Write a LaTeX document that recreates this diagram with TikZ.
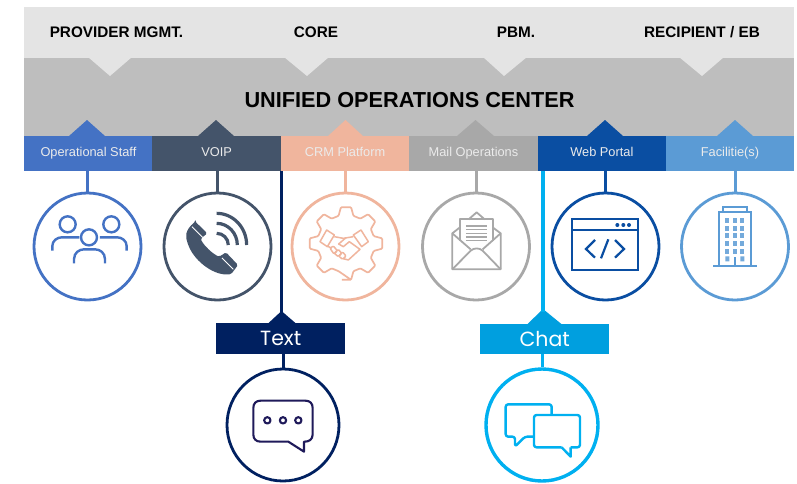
\documentclass[tikz,border=0pt]{standalone}
\usepackage{fontspec}
\setmainfont{Liberation Sans}
\newfontfamily\geofont{Poppins}
\definecolor{bandlight}{HTML}{E4E4E4}
\definecolor{banddark}{HTML}{BEBEBE}
\definecolor{cstaff}{HTML}{4472C4}
\definecolor{cvoip}{HTML}{44546A}
\definecolor{ccrm}{HTML}{F0B59D}
\definecolor{cmail}{HTML}{A8A8A8}
\definecolor{cweb}{HTML}{0A4EA2}
\definecolor{cfac}{HTML}{5B9BD5}
\definecolor{ctext}{HTML}{002060}
\definecolor{cchatbar}{HTML}{009FDF}
\definecolor{cchat}{HTML}{00B0F0}
\definecolor{cbubble}{HTML}{1F1A5A}
\tikzset{
  head/.style={font=\fontsize{15.3}{17}\selectfont\bfseries,text=black,inner sep=0pt},
  tabbox/.style={fill=#1,draw=none,minimum height=35.5pt,inner sep=0pt,text=white!92!black,font=\fontsize{12.8}{15}\selectfont,anchor=north west,text height=9.2pt,text depth=2.7pt},
  bigbar/.style={fill=#1,draw=none,minimum width=129pt,inner sep=0pt,text=white,font=\fontsize{20.5}{24}\geofont\selectfont,anchor=north west,text height=15pt,text depth=1pt},
  ring/.style={circle,draw=#1,line width=2.8pt,fill=white,inner sep=0pt,minimum size=107pt},
  bigring/.style={circle,draw=#1,fill=white,inner sep=0pt,minimum size=112pt},
  link/.style={draw=#1,line width=3pt},
}
\begin{document}
\begin{tikzpicture}[x=1pt,y=-1pt]
\useasboundingbox (0,0) rectangle (797,483);
% bands
\fill[bandlight] (24,7) rectangle (794,58);
\fill[banddark] (24,58) rectangle (794,136);
\fill[bandlight] (88,57) -- (110,76) -- (132,57) -- cycle;
\fill[bandlight] (284,57) -- (307,76) -- (329,57) -- cycle;
\fill[bandlight] (483,57) -- (504,76) -- (527,57) -- cycle;
\fill[bandlight] (679,57) -- (702,76) -- (724,57) -- cycle;
\node[head] (h1) at (116.5,32) {PROVIDER MGMT.};
\node[head] (h2) at (316,32) {CORE};
\node[head] (h3) at (516,32) {PBM.};
\node[head] (h4) at (702,32) {RECIPIENT / EB};
\node[font=\fontsize{21.7}{24}\selectfont\bfseries,inner sep=0pt] (uoc) at (409.5,100) {UNIFIED OPERATIONS CENTER};
% tabs
\fill[cstaff] (69,136) -- (87,120) -- (105,136) -- cycle;
\fill[cvoip] (198,136) -- (216,120) -- (234,136) -- cycle;
\fill[ccrm] (328,136) -- (345.5,120) -- (363,136) -- cycle;
\fill[cmail] (457,136) -- (475.5,120) -- (494,136) -- cycle;
\fill[cweb] (587,136) -- (605,120) -- (623,136) -- cycle;
\fill[cfac] (717,136) -- (735,120) -- (753,136) -- cycle;
\node[tabbox=cstaff,minimum width=128.5pt] (staff) at (24,135.5) {Operational Staff};
\node[tabbox=cvoip,minimum width=128.5pt] (voip) at (152.2,135.5) {VOIP};
\node[tabbox=ccrm,minimum width=128.5pt] (crm) at (280.6,135.5) {CRM Platform};
\node[tabbox=cmail,minimum width=128.5pt] (mail) at (409,135.5) {Mail Operations};
\node[tabbox=cweb,minimum width=128.5pt] (web) at (537.4,135.5) {Web Portal};
\node[tabbox=cfac,minimum width=128pt] (fac) at (665.8,135.5) {Facilitie(s)};
% rings
\node[ring=cstaff] (rstaff) at (87.5,246.5) {};
\node[ring=cvoip] (rvoip) at (217.5,246.5) {};
\node[ring=ccrm] (rcrm) at (345.5,246.5) {};
\node[ring=cmail] (rmail) at (476,246.5) {};
\node[ring=cweb] (rweb) at (605.5,246.5) {};
\node[ring=cfac] (rfac) at (735,246.5) {};
\draw[link=cstaff] (rstaff.north) -- (rstaff.north |- staff.south);
\draw[link=cvoip] (rvoip.north) -- (rvoip.north |- voip.south);
\draw[link=ccrm] (rcrm.north) -- (rcrm.north |- crm.south);
\draw[link=cmail] (rmail.north) -- (rmail.north |- mail.south);
\draw[link=cweb] (rweb.north) -- (rweb.north |- web.south);
\draw[link=cfac] (rfac.north) -- (rfac.north |- fac.south);
% text and chat branches
\coordinate (chattop) at (543,171);
\coordinate (texttop) at (281,171);
\fill[ctext] (268,323.5) -- (281.5,311) -- (296,323.5) -- cycle;
\fill[cchatbar] (527,324.5) -- (543,309) -- (562,324.5) -- cycle;
\node[bigbar=ctext,minimum height=31pt] (tbar) at (216,323) {Text};
\node[bigbar=cchatbar,minimum height=30pt] (cbar) at (480,324) {Chat};
\node[bigring=ctext,line width=2.8pt] (rtext) at (283,425) {};
\node[bigring=cchat,line width=3.4pt] (rchat) at (542,425) {};
\draw[draw=ctext,line width=3pt] (texttop) -- (281,312);
\draw[draw=cchat,line width=3.4pt] (chattop) -- (543,312);
\draw[draw=ctext,line width=3pt] (tbar.south -| rtext.north) -- (rtext.north);
\draw[draw=cchat,line width=3pt] (cbar.south -| rchat.north) -- (rchat.north);
% people icon
\begin{scope}[shift={(20,180)},x=0.3333pt,y=-0.3333pt,draw=cstaff,line width=2.4pt]
\draw (143,133) circle[radius=24];
\draw (274,133) circle[radius=24];
\draw (207,172) circle[radius=24];
\draw (162,250) -- (162,238) .. controls (162,218) and (178,208) .. (192,208) -- (225,208) .. controls (240,208) and (255,218) .. (255,238) -- (255,250);
\draw (97,212) -- (97,198) .. controls (97,182) and (112,172) .. (125,172) -- (178,172);
\draw (320,212) -- (320,198) .. controls (320,182) and (305,172) .. (292,172) -- (240,172);
\end{scope}
% phone icon
\begin{scope}[shift={(20,180)},x=0.3333pt,y=-0.3333pt]
\fill[cvoip,rounded corners=1.5pt] (526,125) -- (562,160) -- (542,176) .. controls (550,195) and (578,222) .. (598,230) -- (618,217) -- (654,255) -- (634,282) .. controls (585,290) and (525,245) .. (505,195) .. controls (495,170) and (495,150) .. cycle;
\draw[white,line width=0.8pt] (516,140) -- (548,172);
\draw[white,line width=0.8pt] (606,234) -- (640,268);
\draw[cvoip,line width=3.2pt] (590,100) arc[start angle=90,end angle=0,x radius=90,y radius=-95];
\draw[cvoip,line width=3.2pt] (590,130) arc[start angle=90,end angle=0,x radius=62,y radius=-65];
\draw[cvoip,line width=3.2pt] (590,160) arc[start angle=90,end angle=0,x radius=35,y radius=-35];
\end{scope}
% handshake gear icon
\begin{scope}[shift={(346,243.5)},x=0.3333pt,y=-0.3333pt,draw=ccrm,line width=1.7pt]
\draw[rounded corners=1pt] (82:110)
  \foreach \a in {90,45,...,-225} { -- (\a+8:110) -- (\a-8:110) -- (\a-15:86) -- (\a-30:86) }
  -- cycle;
\end{scope}
\begin{scope}[shift={(280,180)},x=0.3333pt,y=-0.3333pt,draw=ccrm,line width=1.5pt,line join=round]
\draw (140,150) -- (163,165) -- (142,200) -- (120,185) -- cycle;
\draw (243,150) -- (265,185) -- (245,200) -- (220,165) -- cycle;
\draw (163,170) -- (190,175) -- (220,170);
\draw (198,173) -- (176,192) -- (190,200) -- (208,185) -- (240,208) -- (205,240) -- (190,236);
\draw (142,198) -- (155,205);
\draw[rounded corners=1pt] (150,205) -- (160,198) -- (172,212) -- (162,222) -- cycle;
\draw[rounded corners=1pt] (163,220) -- (175,208) -- (185,220) -- (175,230) -- cycle;
\draw[rounded corners=1pt] (176,228) -- (188,216) -- (198,228) -- (188,238) -- cycle;
\end{scope}
% mail icon
\begin{scope}[shift={(280,180)},x=0.3333pt,y=-0.3333pt,draw=cmail,line width=1.8pt,line join=round]
\draw (540,182) -- (540,118) -- (638,118) -- (638,182);
\draw (566,118) -- (590,97) -- (614,118);
\draw (540,142) -- (517,160) -- (517,268) -- (662,268) -- (662,160) -- (638,142);
\draw (517,160) -- (572,208);
\draw (662,160) -- (608,208);
\draw (517,268) -- (572,212) .. controls (582,203) and (598,203) .. (608,212) -- (662,268);
\foreach \yy in {138,149,160,171,182}
  \draw[line width=1.4pt] (558,\yy) -- (622,\yy);
\end{scope}
% web icon
\begin{scope}[shift={(540,180)},x=0.3333pt,y=-0.3333pt,draw=cweb,line width=2.2pt]
\draw (97,116) rectangle (293,270);
\draw (97,150) -- (293,150);
\fill[cweb] (232,135) circle[radius=6] (250,135) circle[radius=6] (267,135) circle[radius=6];
\draw (165,180) -- (138,207) -- (165,233);
\draw (225,180) -- (252,207) -- (225,233);
\draw (205,178) -- (183,235);
\end{scope}
% building icon
\begin{scope}[shift={(540,180)},x=0.3333pt,y=-0.3333pt,draw=cfac,line width=1.8pt]
\draw (538,258) -- (538,95) -- (632,95) -- (632,258);
\draw (550,95) -- (550,82) -- (620,82) -- (620,95);
\draw (520,258) -- (650,258);
\foreach \xx in {562,584,607} \foreach \yy in {121,144,167,190,213}
  \fill[cfac!85!white] (\xx-6,\yy-7.5) rectangle (\xx+6,\yy+7.5);
\fill[cfac!85!white] (556,229) rectangle (568,244) (601,229) rectangle (613,244);
\draw (584,258) -- (584,232);
\end{scope}
% bubble icon
\begin{scope}[shift={(200,300)},x=0.3333pt,y=-0.3333pt,draw=cbubble,line width=2.1pt,line join=round]
\draw (182,302) -- (316,302) .. controls (330,302) and (338,310) .. (338,324) -- (338,403) .. controls (338,418) and (328,425) .. (314,425) -- (312,425) -- (312,455) -- (265,425) -- (182,425) .. controls (168,425) and (160,417) .. (160,403) -- (160,324) .. controls (160,310) and (168,302) .. cycle;
\draw (202,361) circle[radius=9.5];
\draw (249,361) circle[radius=9.5];
\draw (295,361) circle[radius=9.5];
\end{scope}
% chat icon
\begin{scope}[shift={(460,300)},x=0.3333pt,y=-0.3333pt,draw=cchat,line width=2.4pt,line join=round]
\draw[rounded corners=2.5pt] (222,410) -- (195,410) -- (165,440) -- (165,410) -- (137,410) -- (137,313) -- (275,313) -- (275,345);
\draw[rounded corners=2.5pt] (305,442) -- (222,442) -- (222,345) -- (360,345) -- (360,442) -- (332,442);
\draw (332,442) -- (332,470) -- (305,442);
\end{scope}
\end{tikzpicture}
\end{document}
